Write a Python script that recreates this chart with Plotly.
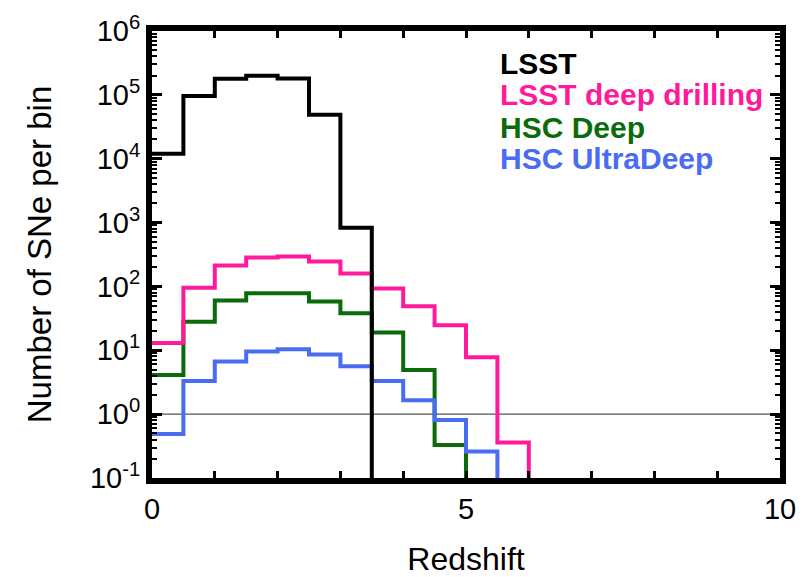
import plotly.graph_objects as go

# bin edges (redshift), width 0.5
bin_edges = [0.0, 0.5, 1.0, 1.5, 2.0, 2.5, 3.0, 3.5, 4.0, 4.5, 5.0, 5.5, 6.0]

lsst = [1.2e4, 9.6e4, 1.78e5, 2.0e5, 1.8e5, 4.9e4, 8.3e2]
lsst_deep = [13, 95, 213, 283, 295, 245, 160, 93, 49, 24.6, 7.8, 0.36]
hsc_deep = [4.1, 28, 60, 78, 78, 58, 38, 19, 4.9, 0.33]
hsc_ultradeep = [0.49, 3.3, 6.7, 9.6, 10.4, 8.6, 5.6, 3.3, 1.65, 0.81, 0.26]

series_names = ["LSST", "LSST deep drilling", "HSC Deep", "HSC UltraDeep"]
series_colors = ["#000000", "#FF1A9C", "#0B6B0B", "#4A6CF2"]

y_tick_exponents = [-1, 0, 1, 2, 3, 4, 5, 6]
x_tick_vals = [0, 5, 10]
x_tick_text = ["0", "5", "10"]

FLOOR = 1e-3  # below the visible range: the histogram drops to "zero"
REF_LEVEL = 1.0

fig = go.Figure()

def step_trace(values, color, name):
    n = len(values)
    xs = bin_edges[: n + 1]
    ys = list(values) + [FLOOR]
    return go.Scatter(x=xs, y=ys, mode="lines", line=dict(color=color, width=4, shape="hv"),
                      name=name, showlegend=False)

# reference line at 1
fig.add_trace(go.Scatter(x=[0, 10], y=[REF_LEVEL, REF_LEVEL], mode="lines",
                         line=dict(color="#555555", width=1.2), showlegend=False))

data = {"LSST": lsst, "LSST deep drilling": lsst_deep, "HSC Deep": hsc_deep, "HSC UltraDeep": hsc_ultradeep}
color_of = dict(zip(series_names, series_colors))
for nm in ["HSC Deep", "HSC UltraDeep", "LSST deep drilling", "LSST"]:
    fig.add_trace(step_trace(data[nm], color_of[nm], nm))

# legend as coloured text
legend_y = [0.928, 0.857, 0.783, 0.714]
for nm, yy in zip(series_names, legend_y):
    fig.add_annotation(text="<b>%s</b>" % nm, xref="paper", yref="paper", x=0.551, y=yy,
                       xanchor="left", yanchor="middle", showarrow=False,
                       font=dict(family="Liberation Sans, Arial, sans-serif", size=30, color=color_of[nm]))

font = dict(family="Liberation Sans, Arial, Helvetica, sans-serif", size=28, color="#000000")

# the page body has an 8px default margin; the figure is sized to compensate
fig.update_layout(
    width=801, height=569,
    margin=dict(l=144, r=29, t=23, b=99, autoexpand=False),
    paper_bgcolor="white", plot_bgcolor="white",
    font=font,
    showlegend=False,
    xaxis=dict(
        range=[0, 10], tickvals=x_tick_vals, ticktext=x_tick_text,
        ticks="inside", ticklen=7, tickwidth=3, tickcolor="black",
        minor=dict(ticks="inside", ticklen=7, tickwidth=3, tickcolor="black", dtick=1, tick0=0),
        showline=True, linewidth=6, linecolor="black", mirror="ticks",
        showgrid=False, zeroline=False, automargin=False,
        title=dict(text="Redshift", font=dict(size=32), standoff=32),
        tickfont=dict(size=29),
    ),
    yaxis=dict(
        type="log", range=[-1, 6],
        tickvals=[10 ** e for e in y_tick_exponents],
        ticktext=["10<sup>%d</sup>" % e for e in y_tick_exponents],
        ticks="inside", ticklen=10, tickwidth=3, tickcolor="black",
        minor=dict(ticks="inside", ticklen=5, tickwidth=2, tickcolor="black", dtick="D1"),
        showline=True, linewidth=6, linecolor="black", mirror="ticks",
        showgrid=False, zeroline=False, automargin=False,
        title=dict(text="Number of SNe per bin", font=dict(size=33), standoff=30),
        tickfont=dict(size=29),
    ),
)

fig.write_html("out.html")
